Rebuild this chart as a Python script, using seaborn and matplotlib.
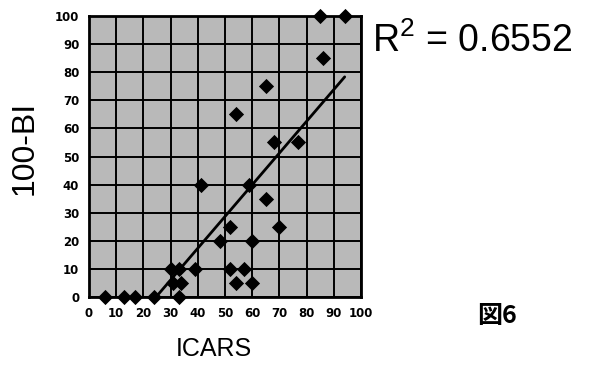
import matplotlib
matplotlib.use("Agg")
import matplotlib.pyplot as plt
import seaborn as sns
import pandas as pd

# ICARS vs 100-BI
icars = [6, 13, 17, 24, 33, 30, 33, 31, 34, 39, 41, 48, 52, 52, 57, 54, 60, 59,
         60, 65, 70, 54, 65, 68, 77, 86, 85, 94]
bi100 = [0, 0, 0, 0, 0, 10, 10, 5, 5, 10, 40, 20, 25, 10, 10, 5, 5, 40,
         20, 35, 25, 65, 75, 55, 55, 85, 100, 100]
ticks = list(range(0, 101, 10))
r2_text = "0.6552"

df = pd.DataFrame({"ICARS": icars, "100-BI": bi100})

sns.set_theme(style="white")
plt.rcParams["font.family"] = ["Liberation Sans", "DejaVu Sans"]
plt.rcParams["mathtext.fontset"] = "custom"
plt.rcParams["mathtext.rm"] = "Liberation Sans"
plt.rcParams["text.color"] = "black"
plt.rcParams["xtick.color"] = "black"
plt.rcParams["ytick.color"] = "black"

fig = plt.figure(figsize=(5.91, 3.66), dpi=100)
ax = fig.add_axes([89 / 591, 1 - 297 / 366, 272 / 591, 281 / 366])
ax.set_facecolor("#b9b9b9")

# trend line (least squares), clipped at the axes like the original
sns.regplot(data=df, x="ICARS", y="100-BI", ax=ax, scatter=False, ci=None,
            truncate=True, line_kws={"color": "black", "lw": 2})
sns.scatterplot(data=df, x="ICARS", y="100-BI", ax=ax, marker="D", s=60,
                color="black", edgecolor="black", linewidth=0, clip_on=False,
                zorder=5)

ax.set_xlim(0, 100)
ax.set_ylim(0, 100)
ax.set_xticks(ticks)
ax.set_yticks(ticks)
ax.grid(True, color="black", lw=1.4)
ax.set_axisbelow(True)
for sp in ax.spines.values():
    sp.set_color("black")
    sp.set_linewidth(2)
ax.tick_params(axis="both", length=3, width=1.2, color="black", pad=4,
               labelsize=8.5, labelcolor="black")
for lab in ax.get_xticklabels() + ax.get_yticklabels():
    lab.set_fontweight("bold")
    lab.set_family("DejaVu Sans")
ax.set_xlabel("")
ax.set_ylabel("")

fig.text(214 / 591, 1 - 349 / 366, "ICARS", fontsize=18, ha="center", va="center")
fig.text(25 / 591, 1 - 148 / 366, "100-BI", fontsize=23, rotation=90,
         ha="center", va="center")
fig.text(372 / 591, 1 - 41 / 366, r"$\mathregular{R^2}$ = " + r2_text,
         fontsize=27, ha="left", va="center")
fig.text(477 / 591, 1 - 316 / 366, "図6", fontsize=18, fontweight="bold",
         family=["Noto Sans CJK JP", "DejaVu Sans"], ha="left", va="center")

fig.savefig("out.png", dpi=100)
